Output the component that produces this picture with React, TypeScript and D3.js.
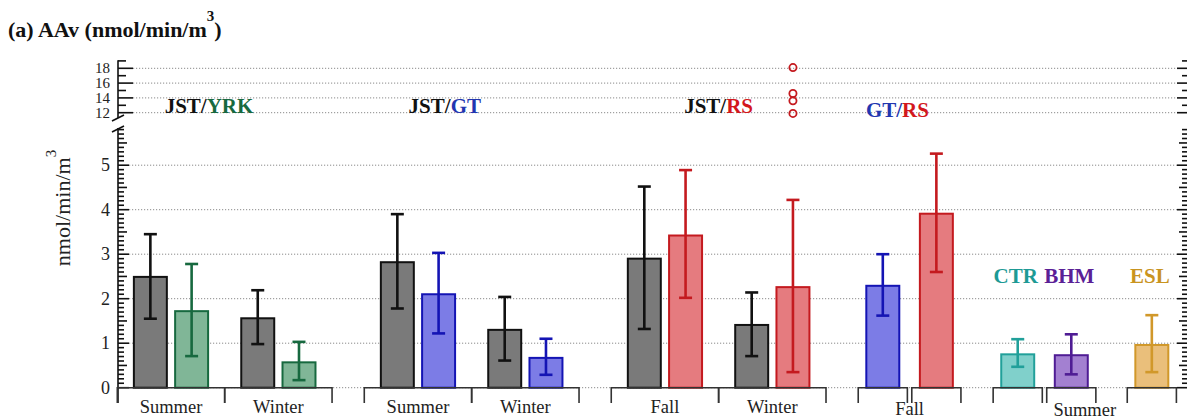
import React from "react";
import * as d3 from "d3";

// bars, left to right
const barSite = ["JST", "YRK", "JST", "YRK", "JST", "GT", "JST", "GT", "JST", "RS", "JST", "RS", "GT", "RS", "CTR", "BHM", "ESL"];
const barMean = [2.49, 1.72, 1.56, 0.57, 2.82, 2.1, 1.3, 0.67, 2.9, 3.42, 1.41, 2.26, 2.29, 3.91, 0.75, 0.73, 0.96];
const barLow = [1.55, 0.71, 0.98, 0.17, 1.78, 1.22, 0.61, 0.29, 1.32, 2.02, 0.71, 0.35, 1.62, 2.6, 0.47, 0.3, 0.35];
const barHigh = [3.45, 2.78, 2.19, 1.03, 3.9, 3.03, 2.04, 1.1, 4.52, 4.89, 2.14, 4.22, 3.0, 5.26, 1.09, 1.2, 1.63];

// x categories
const seasonLabels = ["Summer", "Winter", "Summer", "Winter", "Fall", "Winter", "Fall", "Summer"];
const barSeason = [0, 0, 1, 1, 2, 2, 3, 3, 4, 4, 5, 5, 6, 6, 7, 7, 7];

// RS winter outliers (upper panel)
const outlierValues = [18.1, 14.6, 13.6, 11.9];
const outlierBar = 11;

const pairNames = [["JST", "YRK"], ["JST", "GT"], ["JST", "RS"], ["GT", "RS"]];
const singleNames = ["CTR", "BHM", "ESL"];

const lowerTicks = [0, 1, 2, 3, 4, 5];
const upperTicks = [12, 14, 16, 18];

const siteStyle: Record<string, { fill: string; stroke: string; text: string }> = {
  JST: { fill: "#7a7a7a", stroke: "#111111", text: "#111111" },
  YRK: { fill: "#80b697", stroke: "#17693f", text: "#17693f" },
  GT: { fill: "#7c7ce6", stroke: "#1414b4", text: "#2236b0" },
  RS: { fill: "#e57b7f", stroke: "#c41a1f", text: "#d3171c" },
  CTR: { fill: "#80d0cb", stroke: "#21a09a", text: "#1d9a95" },
  BHM: { fill: "#a380d1", stroke: "#4f1c94", text: "#5a2096" },
  ESL: { fill: "#eabf7b", stroke: "#d1982a", text: "#c9941f" },
};

const W = 1187;
const H = 420;
const FONT = "Liberation Serif, Times New Roman, DejaVu Serif, serif";

// layout of the bracket (category) axis, in bar-step units
const splitSeasons = [6, 7];
const G = 0.78; // gap between groups
const S = 0.107; // gap between split brackets
const bracketGap = [0, 0, G, 0, G, 0, G, S, G, S, 0.76];

type Bracket = { season: number; bars: number[]; start: number; end: number };
const brackets: Bracket[] = [];
seasonLabels.forEach((_, s) => {
  const bars = barSeason.map((b, i) => (b === s ? i : -1)).filter((i) => i >= 0);
  const parts = splitSeasons.includes(s) ? bars.map((b) => [b]) : [bars];
  parts.forEach((p) => brackets.push({ season: s, bars: p, start: 0, end: 0 }));
});
let cursor = 0;
brackets.forEach((b, i) => {
  cursor += bracketGap[i];
  b.start = cursor;
  cursor += b.bars.length === 2 ? 2.6 : 1.19;
  b.end = cursor;
});

const x = d3.scaleLinear().domain([0, cursor]).range([117.3, 1176.4]);
const yLo = d3.scaleLinear().domain([0, 5]).range([387.7, 165.2]);
const yHi = d3.scaleLinear().domain([12, 18]).range([112.7, 68.3]);

// bar x positions
const barX: number[] = [];
let bandW = 32;
brackets.forEach((b) => {
  const band = d3
    .scaleBand<number>()
    .domain(b.bars)
    .range([x(b.start), x(b.end)])
    .paddingInner(0.225)
    .paddingOuter(b.bars.length === 2 ? 0.414 : 0.19);
  bandW = band.bandwidth();
  b.bars.forEach((i) => (barX[i] = band(i)! + band.bandwidth() / 2));
});

const pairLabelX = [2.22, 7.93, 14.56, 18.89];
const pairLabelY = [113, 113, 113, 117];

const axisL = 118;
const gridR = 1177;

export default function App() {
  const lowMinor = d3.range(0, 59).map((i) => i / 10);
  const upMinor = d3.range(13, 20, 2);

  const ticksLeft = (ys: number[], len: number, key: string) =>
    ys.map((yy, i) => <line key={key + i} x1={axisL} x2={axisL + len} y1={yy} y2={yy} />);
  const ticksRight = (ys: number[], len: number, key: string) =>
    ys.map((yy, i) => <line key={key + i} x1={W} x2={W - len} y1={yy} y2={yy} />);

  const lowMinorY = lowMinor.filter((v) => v % 0.5 > 0.01 && v % 0.5 < 0.49).map((v) => yLo(v));
  const lowHalfY = lowMinor.filter((v) => Math.abs((v % 1) - 0.5) < 0.01).map((v) => yLo(v));
  const lowMajY = lowerTicks.map((v) => yLo(v));
  const upMajY = upperTicks.map((v) => yHi(v));
  const upMinY = upMinor.map((v) => yHi(v));

  // season label spans
  const seasonSpans = seasonLabels.map((label, s) => {
    const bs = brackets.filter((b) => b.season === s);
    return { label, mid: (x(bs[0].start) + x(bs[bs.length - 1].end)) / 2, split: bs.length > 1 };
  });

  return (
    <div style={{ position: "absolute", left: 0, top: 0 }}>
      <svg width={W} height={H} style={{ display: "block", background: "#fff", fontFamily: FONT }}>
        {/* title */}
        <text x={8} y={37} fontSize={22} fontWeight="bold" fill="#111">
          (a) AAv (nmol/min/m<tspan dy={-16} fontSize={15}>3</tspan>
          <tspan dy={16}>)</tspan>
        </text>

        {/* grid */}
        <g stroke="#8a8a8a" strokeWidth={1} strokeDasharray="1.2 1.8">
          {upperTicks.map((v) => (
            <line key={"gu" + v} x1={axisL + 15} x2={gridR} y1={yHi(v)} y2={yHi(v)} />
          ))}
          {lowerTicks.map((v) => (
            <line key={"gl" + v} x1={axisL + 11} x2={gridR} y1={yLo(v)} y2={yLo(v)} />
          ))}
        </g>

        {/* left axis */}
        <g stroke="#111" strokeWidth={1.6}>
          <line x1={axisL} x2={axisL} y1={yHi(19.1)} y2={118} />
          <line x1={axisL} x2={axisL} y1={128} y2={403} />
          <line x1={112} y1={121} x2={124} y2={115} />
          <line x1={112} y1={132} x2={124} y2={126} />
          {ticksLeft(upMajY, 15, "ulM")}
          {ticksLeft(upMinY, 8, "ulm")}
          {ticksLeft(lowMajY, 11, "llM")}
          {ticksLeft(lowHalfY, 9, "llh")}
          {ticksLeft(lowMinorY, 6, "llm")}
        </g>
        {/* right axis ticks */}
        <g stroke="#111" strokeWidth={1.6}>
          {ticksRight(upMajY, 10, "urM")}
          {ticksRight(upMinY, 5, "urm")}
          {ticksRight(lowMajY, 10, "lrM")}
          {ticksRight(lowHalfY, 8, "lrh")}
          {ticksRight(lowMinorY, 5, "lrm")}
        </g>

        {/* tick labels */}
        <g fill="#222" textAnchor="end">
          {upperTicks.map((v) => (
            <text key={"tu" + v} x={110} y={yHi(v) + 5} fontSize={15}>
              {v}
            </text>
          ))}
          {lowerTicks.map((v) => (
            <text key={"tl" + v} x={110} y={yLo(v) + 6} fontSize={18}>
              {v}
            </text>
          ))}
        </g>

        {/* y title */}
        <text transform="translate(70,208) rotate(-90)" textAnchor="middle" fontSize={22} fill="#222">
          nmol/min/m<tspan dy={-14} fontSize={15}>3</tspan>
        </text>

        {/* bars */}
        {barMean.map((v, i) => {
          const st = siteStyle[barSite[i]];
          return (
            <rect
              key={"b" + i}
              x={barX[i] - bandW / 2}
              y={yLo(v)}
              width={bandW}
              height={yLo(0) - yLo(v)}
              fill={st.fill}
              stroke={st.stroke}
              strokeWidth={2}
            />
          );
        })}

        {/* error bars */}
        {barMean.map((_, i) => {
          const st = siteStyle[barSite[i]];
          const cx = barX[i];
          return (
            <g key={"e" + i} stroke={st.stroke} strokeWidth={2.6}>
              <line x1={cx} x2={cx} y1={yLo(barLow[i])} y2={yLo(barHigh[i])} />
              <line x1={cx - 6.5} x2={cx + 6.5} y1={yLo(barLow[i])} y2={yLo(barLow[i])} />
              <line x1={cx - 6.5} x2={cx + 6.5} y1={yLo(barHigh[i])} y2={yLo(barHigh[i])} />
            </g>
          );
        })}

        {/* outliers */}
        {outlierValues.map((v, i) => (
          <circle
            key={"o" + i}
            cx={barX[outlierBar]}
            cy={yHi(v)}
            r={3.6}
            fill="none"
            stroke={siteStyle[barSite[outlierBar]].stroke}
            strokeWidth={1.8}
          />
        ))}

        {/* category brackets */}
        <g stroke="#333" strokeWidth={1.6} fill="none">
          {brackets.map((b, i) => (
            <path key={"br" + i} d={`M${x(b.start)},403V${yLo(0)}H${x(b.end)}V403`} />
          ))}
        </g>
        <g fontSize={18.5} fill="#222" textAnchor="middle">
          {seasonSpans.map((s, i) => (
            <text key={"s" + i} x={s.mid} y={s.split ? (i === 7 ? 415.5 : 415) : 413}>
              {s.label}
            </text>
          ))}
        </g>

        {/* site labels */}
        <g fontSize={21} fontWeight="bold" textAnchor="middle">
          {pairNames.map((p, i) => (
            <text key={"p" + i} x={x(pairLabelX[i])} y={pairLabelY[i]}>
              <tspan fill={siteStyle[p[0]].text}>{p[0]}/</tspan>
              <tspan fill={siteStyle[p[1]].text}>{p[1]}</tspan>
            </text>
          ))}
          {singleNames.map((n) => (
            <text key={n} x={barX[barSite.indexOf(n)] - 2} y={283} fill={siteStyle[n].text}>
              {n}
            </text>
          ))}
        </g>
      </svg>
    </div>
  );
}
